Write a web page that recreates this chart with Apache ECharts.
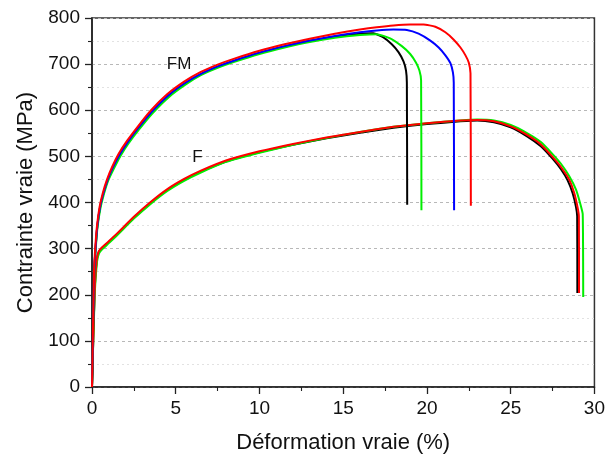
<!DOCTYPE html>
<html>
<head>
<meta charset="utf-8">
<script src="https://cdn.jsdelivr.net/npm/echarts@6/dist/echarts.min.js"></script>
<style>
html,body{margin:0;padding:0;background:#fff;}
#chart{width:608px;height:459px;}
</style>
</head>
<body>
<div id="chart"></div>
<script>
// ---- Data (true strain %, true stress MPa) ----
const xTicks = [0, 5, 10, 15, 20, 25, 30];
const yTicks = [0, 100, 200, 300, 400, 500, 600, 700, 800];

const fmRed = [[0,0],[0.12,250],[0.2,305],[0.3,350],[0.45,390],[0.65,421],[0.9,450],[1.2,477],[1.6,506],[2.1,534],[2.7,563],[3.5,599],[4.5,635],[5.5,662],[6.5,683],[7.5,699],[8.5,712],[10,729],[11.5,743],[13,755],[14.5,766],[16,775],[17,780],[18,784],[19,786],[19.8,786],[20.5,781],[21.1,769],[21.6,753],[22.0,736],[22.3,719],[22.5,703],[22.6,680],[22.62,393]];
const fmBlue = [[0,0],[0.13,250],[0.22,305],[0.32,350],[0.48,390],[0.68,420],[0.93,449],[1.25,476],[1.65,504],[2.15,532],[2.75,561],[3.55,596],[4.55,632],[5.55,659],[6.5,679],[7.5,695],[8.5,708],[10,725],[11.5,739],[13,751],[14.5,761],[16,769],[17,773],[18,775],[18.8,774],[19.5,766],[20.2,751],[20.7,736],[21.1,719],[21.4,702],[21.55,682],[21.6,660],[21.62,383]];
const fmBlack = [[0,0],[0.13,250],[0.22,304],[0.32,349],[0.48,389],[0.68,419],[0.93,448],[1.25,475],[1.65,503],[2.15,531],[2.75,560],[3.55,595],[4.55,631],[5.55,658],[6.5,678],[7.5,694],[8.5,707],[10,724],[11.5,738],[13,750],[14.5,759],[16,766],[16.8,767],[17.4,758],[17.9,743],[18.3,726],[18.6,706],[18.75,686],[18.8,660],[18.82,395]];
const fmGreen = [[0,0],[0.14,250],[0.23,303],[0.33,347],[0.5,387],[0.7,417],[0.95,446],[1.3,473],[1.7,501],[2.2,529],[2.8,558],[3.6,593],[4.6,629],[5.6,656],[6.5,676],[7.5,692],[8.5,705],[10,722],[11.5,736],[13,748],[14.5,757],[16,763],[17,765],[17.8,756],[18.5,739],[19.0,722],[19.35,703],[19.55,686],[19.65,665],[19.67,383]];

const fBlack = [[0,0],[0.15,200],[0.28,274],[0.4,292],[0.6,301],[1,314],[1.5,331],[2.5,367],[3.5,399],[4.5,427],[5.5,449],[6.5,467],[8,489],[10,509],[12,525],[14,539],[16,551],[18,562],[20,570],[22,576],[23,578],[24,574],[25,563],[26,543],[26.8,522],[27.5,495],[28,472],[28.4,448],[28.7,420],[28.9,390],[28.97,370],[28.98,204]];
const fRed = [[0,0],[0.15,202],[0.28,276],[0.4,294],[0.6,303],[1,316],[1.5,333],[2.5,369],[3.5,401],[4.5,429],[5.5,451],[6.5,469],[8,491],[10,511],[12,527],[14,541],[16,553],[18,564],[20,572],[22,578],[23,579],[24,576],[25,565],[26,546],[26.8,526],[27.5,499],[28,477],[28.5,449],[28.8,420],[29.0,388],[29.07,370],[29.08,204]];
const fGreen = [[0,0],[0.16,200],[0.3,272],[0.42,290],[0.62,299],[1,312],[1.5,329],[2.5,365],[3.5,397],[4.5,425],[5.5,447],[6.5,465],[8,488],[10,508],[12,525],[14,540],[16,553],[18,564],[20,572],[22,578],[23,580],[24,578],[25,568],[26,550],[26.8,531],[27.5,505],[28,484],[28.5,457],[28.9,428],[29.15,398],[29.3,375],[29.33,195]];

const labelFM = [5.2, 700];
const labelF = [6.3, 497];

const FONT = '"Liberation Sans", Arial, sans-serif';

function lineSeries(name, data, color, z, lbl) {
  const s = {
    name: name,
    type: 'line',
    data: data,
    showSymbol: false,
    symbol: 'none',
    smooth: 0.15,
    z: z,
    lineStyle: { color: color, width: 2 },
    itemStyle: { color: color },
    animation: false
  };
  if (lbl) {
    s.markPoint = {
      symbol: 'circle', symbolSize: 0,
      data: [{ coord: lbl.coord, value: lbl.text }],
      label: { show: true, formatter: lbl.text, color: '#111', fontSize: 17, fontFamily: FONT, position: 'inside' }
    };
  }
  return s;
}

const chart = echarts.init(document.getElementById('chart'), null, { renderer: 'canvas' });
chart.setOption({
  backgroundColor: '#fff',
  animation: false,
  grid: { left: 92, right: 11, top: 18, bottom: 71, show: true, borderColor: '#333', borderWidth: 1.5, backgroundColor: 'transparent' },
  xAxis: {
    type: 'value', min: 0, max: 30, interval: 5,
    name: 'Déformation vraie (%)', nameLocation: 'middle', nameGap: 45,
    nameTextStyle: { fontSize: 22, color: '#111', fontFamily: FONT },
    axisLine: { show: true, onZero: false, lineStyle: { color: '#222', width: 1.6 } },
    axisTick: { show: true, inside: false, length: 7, lineStyle: { color: '#222', width: 1.3 } },
    minorTick: { show: true, splitNumber: 2, length: 4, lineStyle: { color: '#222', width: 1.1 } },
    axisLabel: { fontSize: 19, color: '#111', fontFamily: FONT, margin: 12 },
    splitLine: { show: false }
  },
  yAxis: {
    type: 'value', min: 0, max: 800, interval: 100,
    name: 'Contrainte vraie (MPa)', nameLocation: 'middle', nameGap: 55,
    nameTextStyle: { fontSize: 22, color: '#111', fontFamily: FONT },
    axisLine: { show: true, lineStyle: { color: '#222', width: 1.6 } },
    axisTick: { show: true, inside: false, length: 7, lineStyle: { color: '#222', width: 1.3 } },
    minorTick: { show: true, splitNumber: 2, length: 4, lineStyle: { color: '#222', width: 1.1 } },
    axisLabel: { fontSize: 19, color: '#111', fontFamily: FONT, margin: 12 },
    splitLine: { show: true, lineStyle: { color: '#b8b8b8', type: [3, 3], width: 1 } },
    minorSplitLine: { show: true, lineStyle: { color: '#e2e2e2', type: [2, 3], width: 1 } }
  },
  series: [
    lineSeries('F noir', fBlack, '#000000', 2),
    lineSeries('F vert', fGreen, '#00ee00', 3),
    lineSeries('F rouge', fRed, '#ff0000', 4, { coord: labelF, text: 'F' }),
    lineSeries('FM noir', fmBlack, '#000000', 5),
    lineSeries('FM vert', fmGreen, '#00ee00', 6),
    lineSeries('FM bleu', fmBlue, '#0000ff', 7),
    lineSeries('FM rouge', fmRed, '#ff0000', 8, { coord: labelFM, text: 'FM' })
  ]
});
</script>
</body>
</html>
